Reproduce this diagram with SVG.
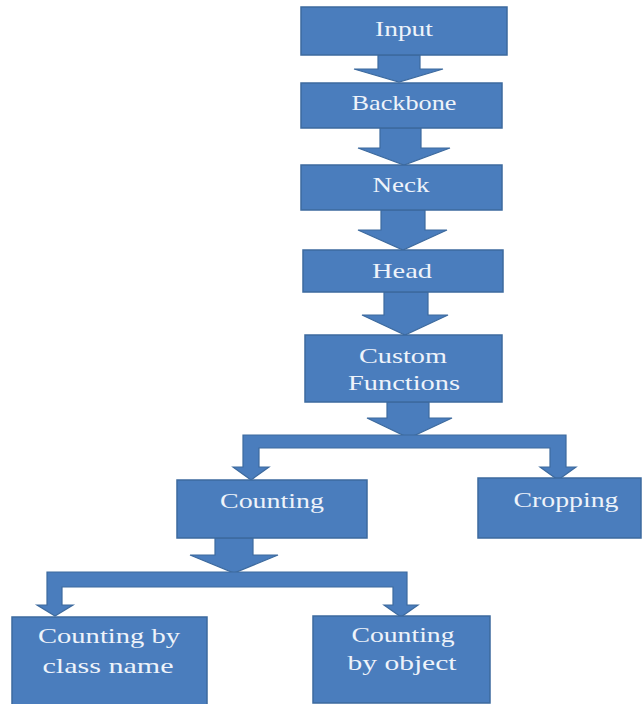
<svg xmlns="http://www.w3.org/2000/svg" width="643" height="704" viewBox="0 0 643 704">
<style>
.box{fill:#4a7dbd;stroke:#3d6a9e;stroke-width:1.5}
.arr{fill:#4a7dbd;stroke:#3d6a9e;stroke-width:1.2;stroke-linejoin:miter}
.t{font-family:"Liberation Serif","Times New Roman",serif;font-size:22px;fill:#eef3fa;text-anchor:middle}
</style>
<rect width="643" height="704" fill="#ffffff"/>
<g id="connectors">
<polygon class="arr" points="378,55 420,55 420,69 443,69 399,82 354,69 378,69"/>
<polygon class="arr" points="380,128 421,128 421,148 450,148 404,165 358,148 380,148"/>
<polygon class="arr" points="381,210 425,210 425,230 447,230 403,250 358,230 381,230"/>
<polygon class="arr" points="384,292 428,292 428,315 448,315 405,335 362,315 384,315"/>
<polygon class="arr" points="387,402 429,402 429,418 452,418 409,438 367,418 387,418"/>
<path class="arr" d="M243,435 H566 V467 H576 L558,480 L540,467 H550 V448 H259 V467 H269 L251,480 L233,467 H243 Z"/>
<polygon class="arr" points="215,538 253,538 253,555 278,555 234,573 190,555 215,555"/>
<path class="arr" d="M47,572 H407 V605 H418 L401,617 L384,605 H393 V587 H62 V605 H73 L55,616 L37,605 H47 Z"/>
</g>
<g id="input"><rect class="box" x="301" y="7" width="206" height="48"/><text class="t" x="404" y="36" textLength="58" lengthAdjust="spacingAndGlyphs">Input</text></g>
<g id="backbone"><rect class="box" x="301" y="83" width="201" height="45"/><text class="t" x="404" y="110" textLength="105" lengthAdjust="spacingAndGlyphs">Backbone</text></g>
<g id="neck"><rect class="box" x="301" y="165" width="201" height="45"/><text class="t" x="401" y="192" textLength="57" lengthAdjust="spacingAndGlyphs">Neck</text></g>
<g id="head"><rect class="box" x="303" y="250" width="200" height="42"/><text class="t" x="402" y="278" textLength="60" lengthAdjust="spacingAndGlyphs">Head</text></g>
<g id="custom-functions"><rect class="box" x="305" y="335" width="197" height="67"/><text class="t" x="403" y="363" textLength="88" lengthAdjust="spacingAndGlyphs">Custom</text><text class="t" x="404" y="390" textLength="112" lengthAdjust="spacingAndGlyphs">Functions</text></g>
<g id="counting"><rect class="box" x="177" y="480" width="190" height="58"/><text class="t" x="272" y="508" textLength="104" lengthAdjust="spacingAndGlyphs">Counting</text></g>
<g id="cropping"><rect class="box" x="478" y="478" width="163" height="60"/><text class="t" x="566" y="507" textLength="105" lengthAdjust="spacingAndGlyphs">Cropping</text></g>
<g id="counting-by-class-name"><rect class="box" x="12" y="617" width="195" height="88"/><text class="t" x="109" y="643" textLength="142" lengthAdjust="spacingAndGlyphs">Counting by</text><text class="t" x="108" y="673" textLength="131" lengthAdjust="spacingAndGlyphs">class name</text></g>
<g id="counting-by-object"><rect class="box" x="313" y="616" width="177" height="87"/><text class="t" x="403" y="642" textLength="103" lengthAdjust="spacingAndGlyphs">Counting</text><text class="t" x="402" y="670" textLength="109" lengthAdjust="spacingAndGlyphs">by object</text></g>
</svg>
